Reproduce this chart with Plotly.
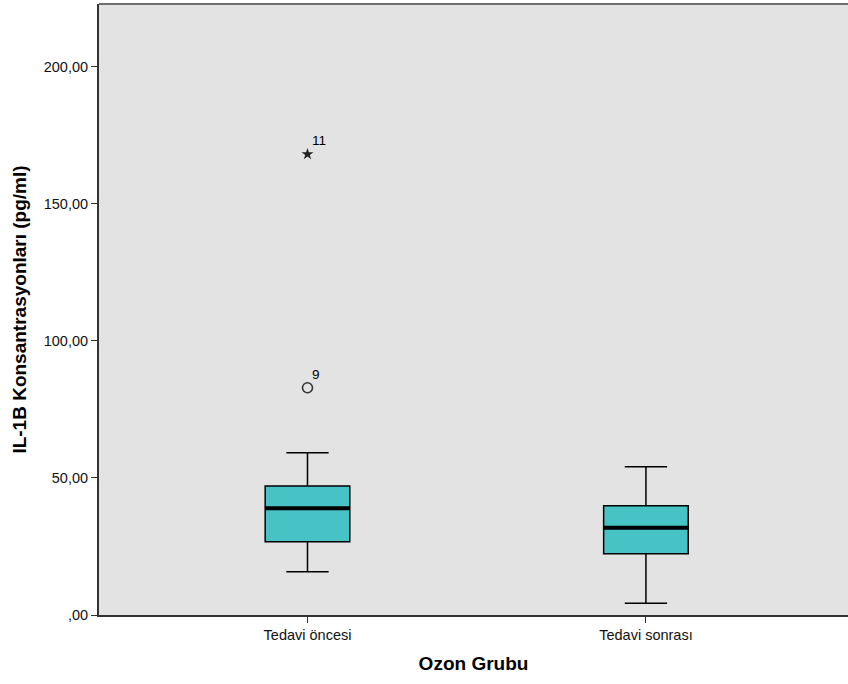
import plotly.graph_objects as go

categories = ["Tedavi öncesi", "Tedavi sonrası"]
q1 = [26.7, 22.3]
median = [38.9, 31.8]
q3 = [47.1, 39.9]
lower_whisker = [15.8, 4.3]
upper_whisker = [59.2, 54.1]

outlier_values = [168.1, 82.9]
outlier_cases = ["11", "9"]
outlier_group = [0, 0]
outlier_symbols = ["star", "circle-open"]

y_tick_vals = [0, 50, 100, 150, 200]
y_tick_text = [",00", "50,00", "100,00", "150,00", "200,00"]

xs = list(range(len(categories)))
FONT = "Liberation Sans, Arial"

fig = go.Figure()
fig.add_trace(go.Box(
    x=xs, q1=q1, median=median, q3=q3,
    lowerfence=lower_whisker, upperfence=upper_whisker,
    width=0.25, whiskerwidth=0.5,
    fillcolor="#47C3C6",
    line=dict(color="#000000", width=1.5),
    boxpoints=False, showlegend=False, hoverinfo="skip",
))
for i, m in enumerate(median):
    fig.add_trace(go.Scatter(
        x=[xs[i] - 0.125, xs[i] + 0.125], y=[m, m], mode="lines",
        line=dict(color="#000000", width=4), showlegend=False, hoverinfo="skip",
    ))

for v, c, g, s in zip(outlier_values, outlier_cases, outlier_group, outlier_symbols):
    if s == "star":
        mk = dict(symbol=s, size=9, color="#222222", line=dict(width=0))
    else:
        mk = dict(symbol=s, size=10, color="#333333", line=dict(color="#333333", width=1.6))
    fig.add_trace(go.Scatter(x=[g], y=[v], mode="markers", marker=mk,
                             showlegend=False, hoverinfo="skip"))
    fig.add_annotation(x=g, y=v, text=c, showarrow=False,
                       xanchor="left", yanchor="bottom", xshift=3, yshift=4,
                       font=dict(family=FONT, size=13.5, color="#000000"))

fig.add_shape(type="line", xref="paper", yref="paper", x0=0, x1=1, y0=1, y1=1,
              line=dict(color="#6E6E6E", width=2))

fig.update_layout(
    width=848, height=684,
    margin=dict(l=99, r=0, t=4, b=69),
    paper_bgcolor="#FFFFFF",
    plot_bgcolor="#E3E3E3",
    font=dict(family=FONT, size=14.5, color="#000000"),
    xaxis=dict(
        range=[-0.616, 1.597], tickvals=xs, ticktext=categories,
        showgrid=False, zeroline=False,
        showline=True, linecolor="#333333", linewidth=2,
        ticks="outside", ticklen=6, tickcolor="#333333",
        tickfont=dict(size=14.5, color="#111111"),
        title=dict(text="<b>Ozon Grubu</b>", font=dict(size=19), standoff=14),
    ),
    yaxis=dict(
        range=[0, 222.9], tickvals=y_tick_vals, ticktext=y_tick_text,
        showgrid=False, zeroline=False,
        showline=True, linecolor="#333333", linewidth=2,
        ticks="outside", ticklen=6, tickcolor="#333333",
        tickfont=dict(size=14.5, color="#111111"),
        title=dict(text="<b>IL-1B Konsantrasyonları (pg/ml)</b>", font=dict(size=19), standoff=12),
    ),
)

fig.write_html("out.html", config={"displayModeBar": False},
               post_script="document.body.style.margin='0';document.body.style.padding='0';")
